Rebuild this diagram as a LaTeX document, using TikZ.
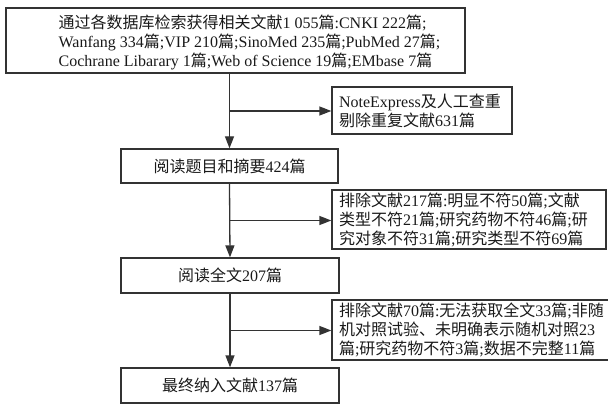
\documentclass[tikz,border=0pt]{standalone}
\usepackage{fontspec}
\setmainfont{Liberation Serif}
\newfontfamily\cjk{Noto Sans CJK SC}
\newcommand{\zh}[1]{{\cjk #1}}
\usepackage{xcolor}
\usetikzlibrary{arrows.meta, positioning, calc}
\definecolor{linegray}{HTML}{333333}

\begin{document}
\begin{tikzpicture}[>={Triangle[length=12pt,width=9pt]},x=1pt,y=-1pt,
    txt/.style={font=\fontsize{16}{19}\selectfont,text=black!90},
    box/.style={txt,draw=linegray,line width=1.3pt,inner sep=0pt},
    leftbox/.style={box,align=left,inner xsep=7pt},
    flow/.style={draw=linegray,line width=1.3pt,->}]
  \useasboundingbox (0,0) rectangle (608,406);

  % boxes of the main column
  \node[box,minimum width=459pt,minimum height=65pt] (search) at (235.5,40.5) {};
  \node[txt,align=left] (searchtxt) at (249.5,42.5)
    {\zh{通过各数据库检索获得相关文献}1 055\zh{篇}:CNKI 222\zh{篇};\\
     Wanfang 334\zh{篇};VIP 210\zh{篇};SinoMed 235\zh{篇};PubMed 27\zh{篇};\\
     Cochrane Libarary 1\zh{篇};Web of Science 19\zh{篇};EMbase 7\zh{篇}};
  \node[box,minimum width=217pt,minimum height=34pt] (screen) at (229.5,166)
    {\zh{阅读题目和摘要}424\zh{篇}};
  \node[box,minimum width=218pt,minimum height=35pt] (fulltext) at (230,275.5)
    {\zh{阅读全文}207\zh{篇}};
  \node[box,minimum width=218pt,minimum height=35pt] (final) at (230,385.5)
    {\zh{最终纳入文献}137\zh{篇}};

  % side boxes
  \node[leftbox,text width=166pt,minimum height=47pt] (dedup) at (422,110.5)
    {NoteExpress\zh{及人工查重}\\\zh{剔除重复文献}631\zh{篇}};
  \node[leftbox,text width=260pt,minimum height=59pt] (excl1) at (469,219.5)
    {\zh{排除文献}217\zh{篇}:\zh{明显不符}50\zh{篇};\zh{文献}\\
     \zh{类型不符}21\zh{篇};\zh{研究药物不符}46\zh{篇};\zh{研}\\
     \zh{究对象不符}31\zh{篇};\zh{研究类型不符}69\zh{篇}};
  \node[leftbox,text width=276pt,minimum height=60pt] (excl2) at (477,330)
    {\zh{排除文献}70\zh{篇}:\zh{无法获取全文}33\zh{篇};\zh{非随}\\
     \zh{机对照试验、未明确表示随机对照}23\\
     \zh{篇};\zh{研究药物不符}3\zh{篇};\zh{数据不完整}11\zh{篇}};

  % connectors
  \coordinate (b1) at ($(search.south -| screen.north)!0.5!(screen.north)$);
  \coordinate (b2) at ($(screen.south)!0.5!(fulltext.north)$);
  \coordinate (b3) at ($(fulltext.south)!0.5!(final.north)$);
  \draw[flow] (search.south -| screen.north) -- (screen.north);
  \draw[flow] (b1) -- (b1 -| dedup.west);
  \draw[flow] (screen.south) -- (fulltext.north);
  \draw[flow] (b2) -- (b2 -| excl1.west);
  \draw[flow] (fulltext.south) -- (final.north);
  \draw[flow] (b3) -- (b3 -| excl2.west);
\end{tikzpicture}
\end{document}
